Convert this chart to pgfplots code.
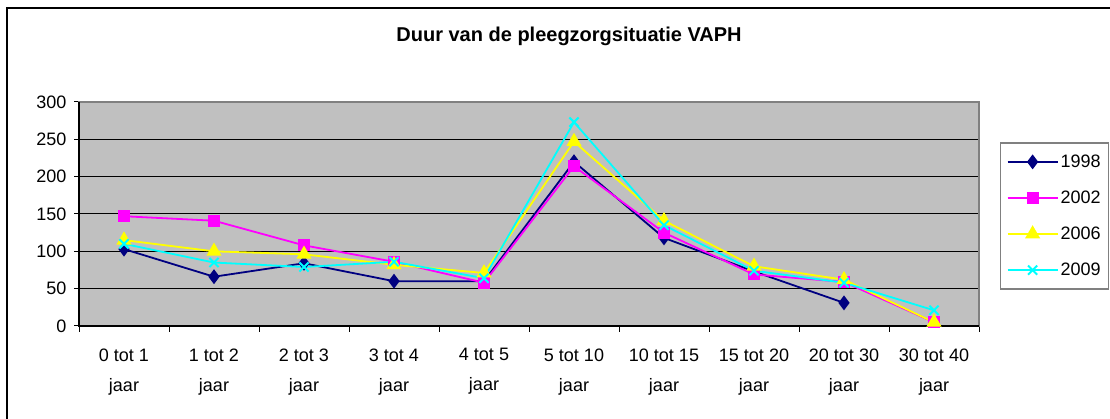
\documentclass[border=0pt]{standalone}
\usepackage{fontspec}
\setmainfont{Liberation Sans}
\usepackage{pgfplots}
\pgfplotsset{compat=1.18}
\definecolor{cnavy}{HTML}{000080}
\definecolor{cmag}{HTML}{FF00FF}
\definecolor{cyel}{HTML}{FFFF00}
\definecolor{ccyan}{HTML}{00FFFF}
\definecolor{bggray}{HTML}{C0C0C0}
\definecolor{frgray}{HTML}{808080}
\begin{document}
\begin{tikzpicture}[x=1pt,y=1pt]
\useasboundingbox (0,0) rectangle (1110,419);
\clip (0,0) rectangle (1110,419);
\fill[white] (0,0) rectangle (1110,419);
\draw[black, line width=2pt] (7,-20) rectangle (1130,411);
\node[anchor=base, font=\bfseries\fontsize{20}{24}\selectfont] at (569,377) {Duur van de pleegzorgsituatie VAPH};
\begin{axis}[
  at={(79pt,93pt)}, anchor=south west,
  scale only axis, width=900pt, height=224pt,
  xmin=-0.5, xmax=9.5, ymin=0, ymax=300,
  axis background/.style={fill=bggray},
  axis line style={draw=frgray, line width=1.5pt},
  xtick={0,...,9},
  xticklabels={{0 tot 1\\jaar},{1 tot 2\\jaar},{2 tot 3\\jaar},{3 tot 4\\jaar},{4 tot 5\\jaar},{5 tot 10\\jaar},{10 tot 15\\jaar},{15 tot 20\\jaar},{20 tot 30\\jaar},{30 tot 40\\jaar}},
  minor xtick={-0.5,0.5,...,9.5},
  ytick={0,50,...,300},
  tick pos=left,
  tick align=outside,
  major tick length=5pt, minor tick length=6pt,
  x tick style={draw=none},
  minor x tick style={draw=black, line width=1pt},
  y tick style={draw=black, line width=1pt},
  ymajorgrids, grid style={black, line width=1pt},
  xticklabel style={align=center, font=\fontsize{18}{30}\selectfont, yshift=-14pt},
  yticklabel style={font=\fontsize{18}{20}\selectfont, xshift=-4pt},
  /pgf/number format/assume math mode=true,
  legend style={at={(rel axis cs:1.0233,0.821)}, anchor=north west, draw=frgray, line width=1.5pt, font=\fontsize{18}{20}\selectfont, row sep=18pt, inner xsep=6pt, inner ysep=10pt, cells={anchor=west}},
  legend image code/.code={\draw[#1, mark repeat=2, mark phase=2] plot coordinates {(0pt,0pt) (25pt,0pt) (50pt,0pt)};},
  every axis plot/.append style={line width=1.8pt, mark options={solid}},
  clip=false,
]
\addplot[cnavy, mark=diamond*, mark size=6pt, mark options={fill=cnavy}] coordinates {(0,103) (1,66) (2,84) (3,60) (4,60) (5,220) (6,118) (7,73) (8,31)};
\addplot[cmag, mark=square*, mark size=5pt, mark options={fill=cmag}] coordinates {(0,147) (1,141) (2,108) (3,86) (4,58) (5,214) (6,125) (7,69) (8,59) (9,5)};
\addplot[cyel, mark=triangle*, mark size=7pt, mark options={fill=cyel}] coordinates {(0,115) (1,100) (2,96) (3,82) (4,71) (5,247) (6,141) (7,80) (8,62) (9,5)};
\addplot[ccyan, mark=x, mark size=6.5pt, mark options={line width=2pt}] coordinates {(0,110) (1,85) (2,79) (3,86) (4,64) (5,273) (6,135) (7,74) (8,58) (9,21)};
\legend{1998,2002,2006,2009}
\draw[black, line width=1.5pt] (rel axis cs:0,1) -- (rel axis cs:0,0) -- (rel axis cs:1,0);
\end{axis}
\end{tikzpicture}
\end{document}
